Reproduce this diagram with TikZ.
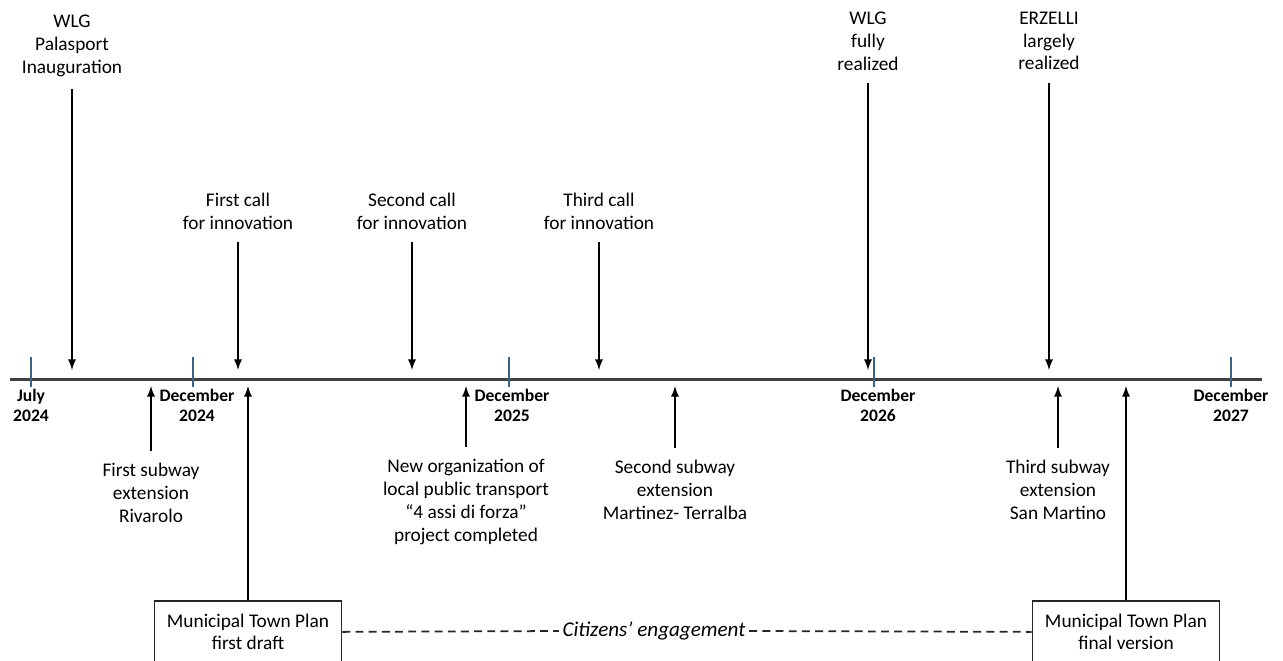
\documentclass[tikz,border=0pt]{standalone}
\usepackage{fontspec}
\setmainfont{Carlito}
\usetikzlibrary{arrows}

\definecolor{tickblue}{RGB}{52,100,128}
\definecolor{axisgray}{RGB}{64,64,64}

\begin{document}
\begin{tikzpicture}[x=0.02cm,y=-0.02cm]
            \tikzset{event/.style = {align=center, inner xsep=2pt, inner ysep=7pt, font=\fontsize{11}{13}\selectfont}}
            \tikzset{date/.style = {align=center, inner sep=0pt, font=\bfseries\fontsize{10}{11.3}\selectfont}}
            \tikzset{plan/.style = {draw=black!85, line width=1pt, align=center, anchor=north, minimum width=3.74cm, minimum height=1.24cm, font=\fontsize{11}{13}\selectfont}}
            \tikzset{yeartick/.style = {draw=tickblue, line width=1.1pt}}
            \tikzset{evarrow/.style = {->, >=latex, black, line width=1.1pt}}
            \tikzset{engage/.style = {black!85, line width=1pt, dash pattern=on 4.5pt off 3pt}}
            \useasboundingbox (0,0) rectangle (1283,660);
            \clip (0,0) rectangle (1283,660);
            % time axis
            \coordinate (axl) at (10,379);
            \coordinate (axr) at (1262,379);
            \draw[axisgray, line width=1.7pt] (axl) -- (axr);
            \draw[yeartick] (31,357) -- (31,387);
            \draw[yeartick] (193,357) -- (193,387);
            \draw[yeartick] (509,357) -- (509,387);
            \draw[yeartick] (874,357) -- (874,387);
            \draw[yeartick] (1231,357) -- (1231,387);
            \node[date] (jul24) at (31,405) {July\\2024};
            \node[date] (dec24) at (197,405) {December\\2024};
            \node[date] (dec25) at (512,405) {December\\2025};
            \node[date] (dec26) at (878,405) {December\\2026};
            \node[date] (dec27) at (1231,405) {December\\2027};
            % events above
            \node[event] (wlgpala) at (72,46) {WLG\\Palasport\\Inauguration};
            \node[event] (call1) at (238,211) {First call\\for innovation};
            \node[event] (call2) at (412,211) {Second call\\for innovation};
            \node[event] (call3) at (599,211) {Third call\\for innovation};
            \node[event] (wlgfull) at (868,41) {WLG\\fully\\realized};
            \node[event] (erzelli) at (1049,41) {ERZELLI\\largely\\realized};
            \coordinate (t1) at (72,370);
            \coordinate (t2) at (238,370);
            \coordinate (t3) at (412,370);
            \coordinate (t4) at (599,370);
            \coordinate (t5) at (868,370);
            \coordinate (t6) at (1049,370);
            % events below
            \node[event] (sub1) at (151,493) {First subway\\extension\\Rivarolo};
            \node[event] (tpl) at (466,502) {New organization of\\local public transport\\“4 assi di forza”\\project completed};
            \node[event] (sub2) at (675,490) {Second subway\\extension\\Martinez- Terralba};
            \node[event] (sub3) at (1058,490) {Third subway\\extension\\San Martino};
            \node[plan] (draft) at (248,600) {Municipal Town Plan\\first draft};
            \node[plan] (final) at (1126,600) {Municipal Town Plan\\final version};
            \coordinate (b1) at (151,386);
            \coordinate (b2) at (466,386);
            \coordinate (b3) at (675,386);
            \coordinate (b4) at (1058,386);
            \coordinate (b5) at (248,386);
            \coordinate (b6) at (1126,386);
            % arrows
            \draw[evarrow] (wlgpala) to (t1);
            \draw[evarrow] (call1) to (t2);
            \draw[evarrow] (call2) to (t3);
            \draw[evarrow] (call3) to (t4);
            \draw[evarrow] (wlgfull) to (t5);
            \draw[evarrow] (erzelli) to (t6);
            \draw[evarrow] (sub1) to (b1);
            \draw[evarrow] (tpl) to (b2);
            \draw[evarrow] (sub2) to (b3);
            \draw[evarrow] (sub3) to (b4);
            \draw[evarrow] (draft) to (b5);
            \draw[evarrow] (final) to (b6);
            % engagement
            \node[fill=white, inner sep=2pt, font=\itshape\fontsize{12}{14}\selectfont] (eng) at (654,631) {Citizens’ engagement};
            \draw[engage] (draft.east) -- (eng.west);
            \draw[engage] (eng.east) -- (final.west);
\end{tikzpicture}
\end{document}
